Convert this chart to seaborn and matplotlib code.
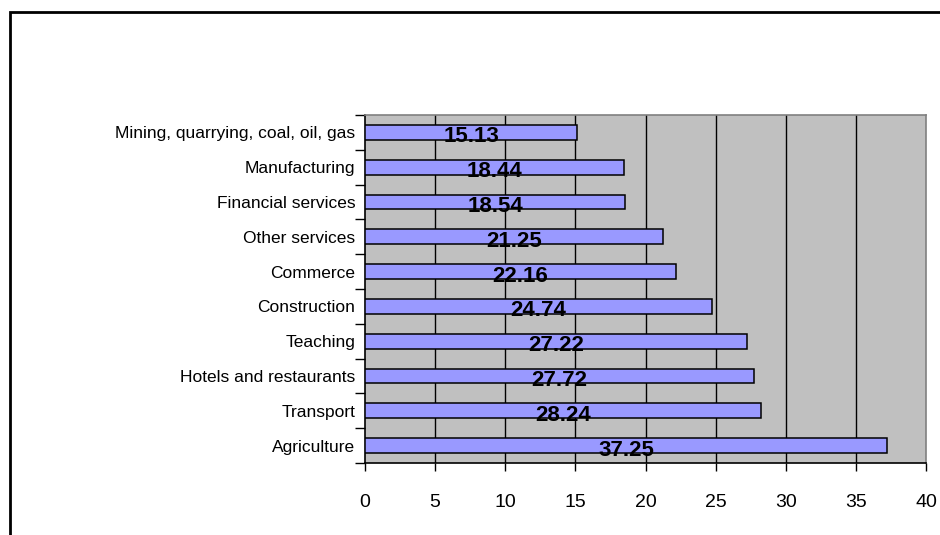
import matplotlib
matplotlib.use("Agg")
import matplotlib.pyplot as plt
from matplotlib.patches import Rectangle
import seaborn as sns
import pandas as pd
import numpy as np

# sectors, top to bottom as shown
sectors = ["Mining, quarrying, coal, oil, gas", "Manufacturing", "Financial services",
           "Other services", "Commerce", "Construction", "Teaching",
           "Hotels and restaurants", "Transport", "Agriculture"]
values = [15.13, 18.44, 18.54, 21.25, 22.16, 24.74, 27.22, 27.72, 28.24, 37.25]
xticks = [0, 5, 10, 15, 20, 25, 30, 35, 40]

df = pd.DataFrame({"sector": sectors, "value": values})

plt.rcParams["font.family"] = ["Liberation Sans", "DejaVu Sans"]

fig = plt.figure(figsize=(9.4, 5.35), dpi=100)
ax = fig.add_axes([365 / 940, 1 - 463 / 535, (926 - 365) / 940, (463 - 115) / 535])
ax.set_facecolor("#C0C0C0")

sns.barplot(data=df, x="value", y="sector", orient="h", order=sectors,
            color="#9999FF", saturation=1, edgecolor="black", linewidth=1.1,
            width=0.43, ax=ax, zorder=3)

# value labels, centered on each bar, sitting a little low
for i, v in enumerate(values):
    ax.text(v / 2, i + 0.13, f"{v:.2f}", ha="center", va="center",
            fontsize=16, fontweight="bold", color="black", zorder=4)

ax.set_xlim(0, 40)
ax.set_ylim(len(sectors) - 0.5, -0.5)
ax.set_xticks(xticks)
ax.set_xticklabels([str(t) for t in xticks], fontsize=14)
ax.tick_params(axis="x", length=6, width=1, color="black", pad=16)
ax.set_yticks(range(len(sectors)))
ax.set_yticklabels(sectors, fontsize=12.5)
ax.tick_params(axis="y", which="major", length=0, pad=7)
ax.set_yticks(np.arange(-0.5, len(sectors), 1), minor=True)
ax.tick_params(axis="y", which="minor", length=7, width=1, color="black")
ax.set_xlabel("")
ax.set_ylabel("")

for x in xticks[1:-1]:
    ax.axvline(x, color="black", lw=1, zorder=1)

ax.spines["left"].set_color("black")
ax.spines["bottom"].set_color("black")
ax.spines["top"].set_color("#808080")
ax.spines["right"].set_color("#808080")
for s in ax.spines.values():
    s.set_linewidth(1.2)

# outer chart border (right and bottom edges fall outside the image)
fig.patches.append(Rectangle((10 / 940, -0.1), 1.2, 1 - 12 / 535 + 0.1,
                             transform=fig.transFigure, fill=False,
                             edgecolor="black", lw=2))

fig.savefig("out.png", dpi=100)
